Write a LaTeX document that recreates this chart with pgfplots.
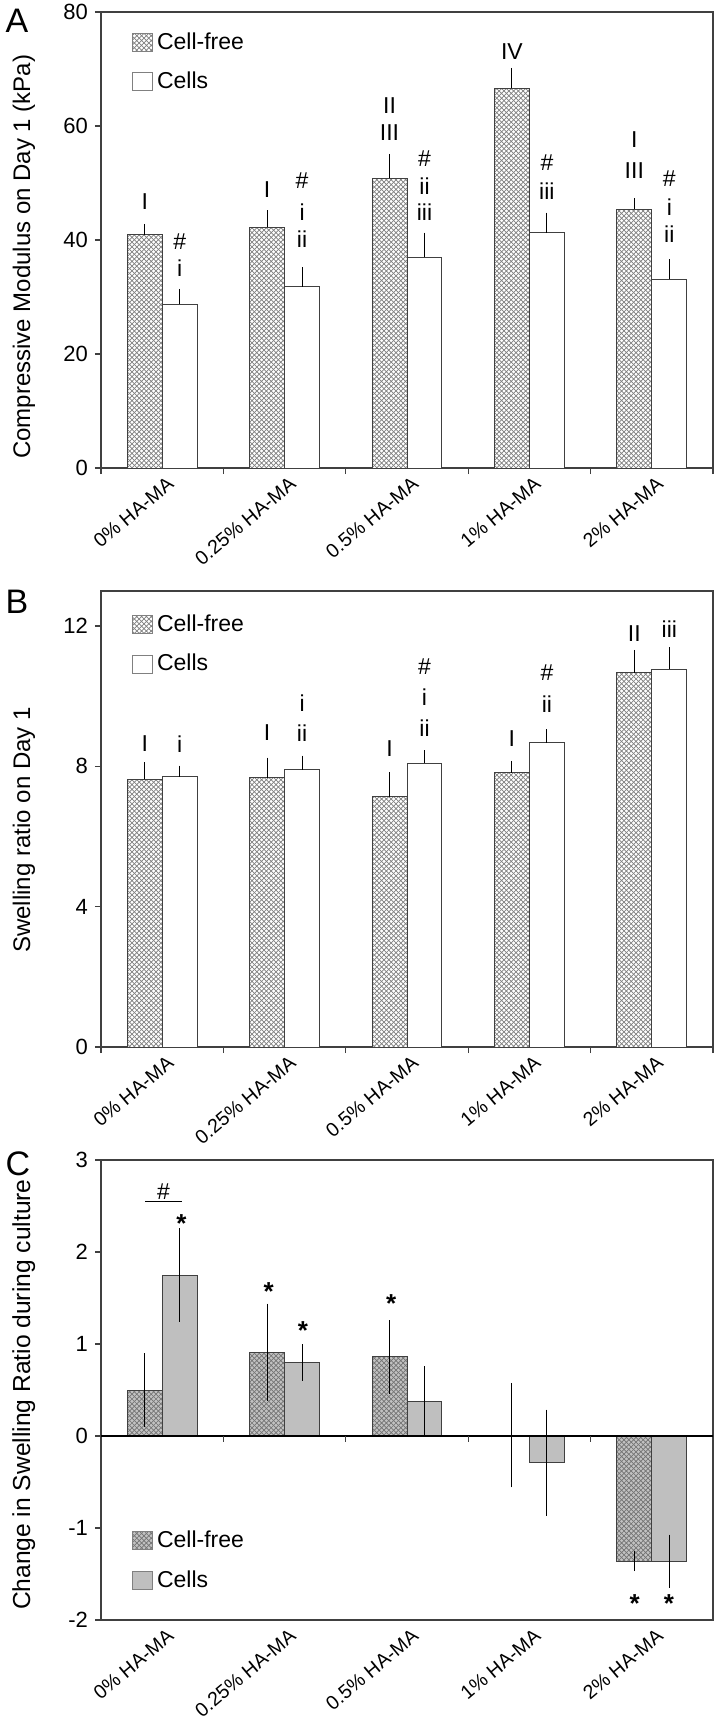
\documentclass[border=0pt]{standalone}
\usepackage{fontspec}
\setmainfont{Liberation Sans}
\usepackage{pgfplots}
\pgfplotsset{compat=1.18}
\usepackage{pgfplotstable}
\usetikzlibrary{patterns}

\definecolor{edge}{gray}{0.25}
\definecolor{hatchline}{gray}{0.5}
\definecolor{hatchbgC}{gray}{0.76}
\definecolor{hatchlineC}{gray}{0.45}
\definecolor{cellgray}{gray}{0.75}

\pgfdeclarepatternformonly{xhatch}{\pgfqpoint{-0.5pt}{-0.5pt}}{\pgfqpoint{2.9pt}{2.9pt}}{\pgfqpoint{2.4pt}{2.4pt}}{%
  \pgfsetlinewidth{0.35pt}%
  \pgfpathmoveto{\pgfqpoint{0pt}{0pt}}\pgfpathlineto{\pgfqpoint{2.4pt}{2.4pt}}%
  \pgfpathmoveto{\pgfqpoint{0pt}{2.4pt}}\pgfpathlineto{\pgfqpoint{2.4pt}{0pt}}%
  \pgfusepath{stroke}}

\newcommand{\fsTick}{\fontsize{11pt}{13pt}\selectfont}
\newcommand{\fsX}{\fontsize{9.8pt}{11pt}\selectfont}
\newcommand{\fsLab}{\fontsize{12pt}{14pt}\selectfont}
\newcommand{\fsLabC}{\fontsize{12.3pt}{14pt}\selectfont}
\newcommand{\fsLeg}{\fontsize{11.5pt}{13pt}\selectfont}
\newcommand{\fsAnn}{\fontsize{11.5pt}{13pt}\selectfont}
\newcommand{\fsStar}{\fontsize{13pt}{14pt}\selectfont\bfseries}

% columns: group, cell-free mean, sd, cells mean, sd
\pgfplotstableread{
x cf cfe ce cee
0 40.9 1.3 28.7 2.1
1 42.2 2.4 31.8 2.8
2 50.8 3.7 37.0 3.7
3 66.6 3.0 41.3 2.9
4 45.4 1.3 33.1 2.9
}\modulus
\pgfplotstableread{
x cf cfe ce cee
0 7.63 0.39 7.71 0.21
1 7.67 0.48 7.91 0.30
2 7.13 0.60 8.09 0.27
3 7.82 0.24 8.68 0.28
4 10.67 0.55 10.77 0.53
}\swelling
\pgfplotstableread{
x cf cfe ce cee
0 0.50 0.36 1.75 0.47
1 0.91 0.49 0.80 0.16
2 0.86 0.36 0.38 0.34
3 0.01 0.53 -0.29 0.54
4 -1.36 0.07 -1.36 0.25
}\change

\tikzset{
  ann/.style={font=\fsAnn, inner sep=0pt, anchor=center},
  star/.style={font=\fsStar, inner sep=0pt, anchor=center},
}
\pgfplotsset{
  panel/.style={
    scale only axis, width=306pt, clip=false,
    xmin=-0.5, xmax=4.5,
    xtick={0,...,4},
    xticklabels={0\% HA-MA,0.25\% HA-MA,0.5\% HA-MA,1\% HA-MA,2\% HA-MA},
    major x tick style={draw=none},
    minor xtick={-0.5,0.5,...,4.5},
    tick align=outside, ytick pos=left, xtick pos=bottom,
    major tick length=3pt, minor tick length=3pt,
    axis line style={edge, line width=0.6pt},
    tick style={edge, line width=0.6pt},
    y tick label style={font=\fsTick},
    x tick label style={font=\fsX, xshift=2pt, yshift=0pt, rotate=40, anchor=north east, inner sep=0.5pt},
    ybar=0pt, bar width=0.285,
    legend style={draw=none, fill=none, font=\fsLeg, inner sep=0pt,
      row sep=6pt, cells={anchor=west}},
    legend image code/.code={\draw[##1, draw=black!50, line width=0.5pt] (0pt,-4.5pt) rectangle (10pt,4.5pt);},
  },
  errs/.style={error bars/.cd, y dir=#1, y explicit,
    error bar style={black, line width=0.5pt},
    error mark options={black, mark size=1.75pt, line width=0.5pt}},
}

\begin{document}
\begin{tikzpicture}
\path[use as bounding box] (0,0) rectangle (360.5pt,-861.5pt);

\node[font=\fontsize{17pt}{18pt}\selectfont] at (8.5pt,-10.5pt) {A};
\node[font=\fontsize{17pt}{18pt}\selectfont] at (8.5pt,-301pt) {B};
\node[font=\fontsize{17pt}{18pt}\selectfont] at (9pt,-582pt) {C};

% ---------- A ----------
\begin{axis}[panel, at={(50.5pt,-234pt)}, anchor=south west, height=228pt,
  ymin=0, ymax=80, ytick={0,20,40,60,80}, yticklabels={0,20,40,60,80},
  every axis y label/.style={at={(axis description cs:-0.126,0.463)}, rotate=90, anchor=center, font=\fsLab},
  ylabel={Compressive Modulus on Day 1 (kPa)},
  legend style={at={(axis description cs:0.05,0.965)}, anchor=north west}]
\addplot[fill=white, draw=edge, line width=0.5pt, postaction={pattern=xhatch, pattern color=hatchline}, errs=plus]
  table[x=x, y=cf, y error=cfe]{\modulus};
\addplot[fill=white, draw=edge, line width=0.5pt, errs=plus]
  table[x=x, y=ce, y error=cee]{\modulus};
\addlegendentry{Cell-free}
\addlegendentry{Cells}
\node[ann] at (axis cs:-0.143,46.7) {I};
\node[ann] at (axis cs:0.143,39.8) {\#};
\node[ann] at (axis cs:0.143,35.1) {i};
\node[ann] at (axis cs:0.857,48.9) {I};
\node[ann] at (axis cs:1.143,50.5) {\#};
\node[ann] at (axis cs:1.143,44.8) {i};
\node[ann] at (axis cs:1.143,40.1) {ii};
\node[ann] at (axis cs:1.857,63.6) {II};
\node[ann] at (axis cs:1.857,58.9) {III};
\node[ann] at (axis cs:2.143,54.2) {\#};
\node[ann] at (axis cs:2.143,49.5) {ii};
\node[ann] at (axis cs:2.143,44.8) {iii};
\node[ann] at (axis cs:2.857,73.0) {IV};
\node[ann] at (axis cs:3.143,53.6) {\#};
\node[ann] at (axis cs:3.143,48.6) {iii};
\node[ann] at (axis cs:3.857,57.7) {I};
\node[ann] at (axis cs:3.857,52.1) {III};
\node[ann] at (axis cs:4.143,50.8) {\#};
\node[ann] at (axis cs:4.143,45.8) {i};
\node[ann] at (axis cs:4.143,41.1) {ii};
\end{axis}

% ---------- B ----------
\begin{axis}[panel, at={(50.5pt,-523.5pt)}, anchor=south west, height=228pt,
  ymin=0, ymax=13, ytick={0,4,8,12}, yticklabels={0,4,8,12},
  every axis y label/.style={at={(axis description cs:-0.126,0.476)}, rotate=90, anchor=center, font=\fsLab},
  ylabel={Swelling ratio on Day 1},
  legend style={at={(axis description cs:0.05,0.958)}, anchor=north west}]
\addplot[fill=white, draw=edge, line width=0.5pt, postaction={pattern=xhatch, pattern color=hatchline}, errs=plus]
  table[x=x, y=cf, y error=cfe]{\swelling};
\addplot[fill=white, draw=edge, line width=0.5pt, errs=plus]
  table[x=x, y=ce, y error=cee]{\swelling};
\addlegendentry{Cell-free}
\addlegendentry{Cells}
\node[ann] at (axis cs:-0.143,8.64) {I};
\node[ann] at (axis cs:0.143,8.64) {i};
\node[ann] at (axis cs:0.857,8.95) {I};
\node[ann] at (axis cs:1.143,9.81) {i};
\node[ann] at (axis cs:1.143,8.95) {ii};
\node[ann] at (axis cs:1.857,8.5) {I};
\node[ann] at (axis cs:2.143,10.83) {\#};
\node[ann] at (axis cs:2.143,9.96) {i};
\node[ann] at (axis cs:2.143,9.09) {ii};
\node[ann] at (axis cs:2.857,8.79) {I};
\node[ann] at (axis cs:3.143,10.68) {\#};
\node[ann] at (axis cs:3.143,9.76) {ii};
\node[ann] at (axis cs:3.857,11.8) {II};
\node[ann] at (axis cs:4.143,11.9) {iii};
\end{axis}

% ---------- C ----------
\begin{axis}[panel, at={(50.5pt,-810pt)}, anchor=south west, height=230pt,
  ymin=-2, ymax=3, ytick={-2,-1,0,1,2,3}, yticklabels={-2,-1,0,1,2,3},
  minor xtick={},
  every axis y label/.style={at={(axis description cs:-0.126,0.49)}, rotate=90, anchor=center, font=\fsLabC},
  ylabel={Change in Swelling Ratio during culture},
  legend style={at={(axis description cs:0.05,0.055)}, anchor=south west}]
\addplot[fill=hatchbgC, draw=edge, line width=0.5pt, postaction={pattern=xhatch, pattern color=hatchlineC}, errs=both]
  table[x=x, y=cf, y error=cfe]{\change};
\addplot[fill=cellgray, draw=edge, line width=0.5pt, errs=both]
  table[x=x, y=ce, y error=cee]{\change};
\addlegendentry{Cell-free}
\addlegendentry{Cells}
\draw[black, line width=0.6pt] (axis cs:-0.5,0) -- (axis cs:4.5,0);
\pgfplotsinvokeforeach{0.5,1.5,2.5,3.5}{\draw[edge, line width=0.6pt] (axis cs:#1,0) -- ++(0pt,-3pt);}
\draw[black, line width=0.5pt] (axis cs:-0.14,2.55) -- (axis cs:0.16,2.55);
\node[ann] at (axis cs:0.01,2.66) {\#};
\node[star] at (axis cs:0.158,2.31) {*};
\node[star] at (axis cs:0.87,1.57) {*};
\node[star] at (axis cs:1.15,1.15) {*};
\node[star] at (axis cs:1.87,1.44) {*};
\node[star] at (axis cs:3.86,-1.82) {*};
\node[star] at (axis cs:4.14,-1.82) {*};
\end{axis}
\end{tikzpicture}
\end{document}
